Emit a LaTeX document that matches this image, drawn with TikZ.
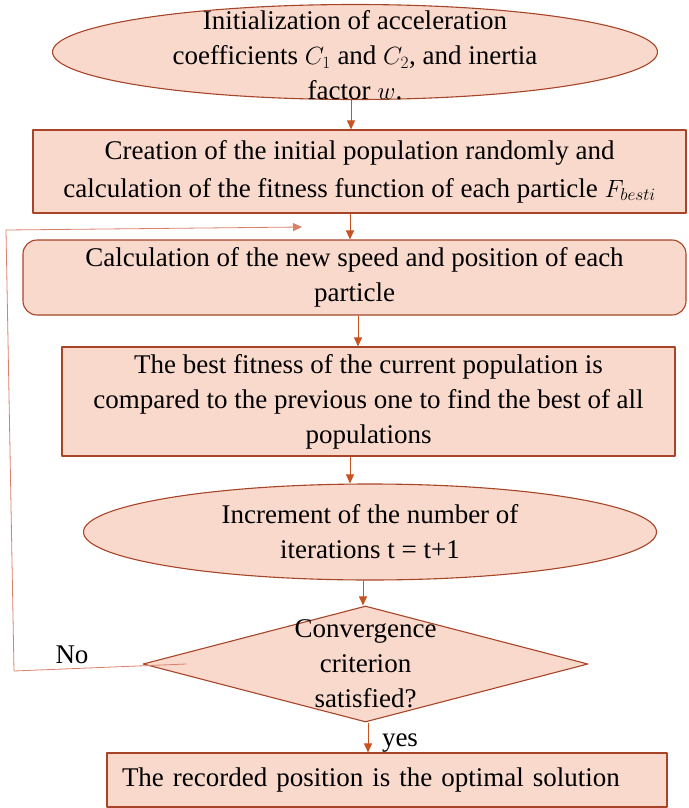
\documentclass[tikz,border=0pt]{standalone}
\usepackage{fontspec}
\setmainfont{Liberation Serif}
\usepackage{tikz}
\usetikzlibrary{arrows.meta,shapes.geometric}

\definecolor{boxfill}{RGB}{248,217,204}
\definecolor{boxline}{RGB}{168,68,40}
\definecolor{arrowline}{RGB}{200,82,32}
\definecolor{backline}{RGB}{218,128,104}

\tikzset{
  procbox/.style={rectangle,draw=boxline,fill=boxfill,line width=1.1pt,align=center,inner sep=0pt},
  startend/.style={ellipse,draw=boxline,fill=boxfill,line width=1.1pt,inner sep=0pt},
  decision/.style={diamond,draw=boxline,fill=boxfill,line width=1.1pt,inner sep=0pt},
  every label/.style={align=center},
  flow/.style={->,draw=arrowline,line width=0.8pt},
  backflow/.style={->,draw=backline,line width=0.8pt}
}

\begin{document}
\begin{tikzpicture}[x=1pt,y=-1pt,>={Triangle[length=9pt,width=8pt]},line join=round,font=\fontsize{27}{35}\selectfont]
  \useasboundingbox (0,0) rectangle (688,808);
  \coordinate (nobend) at (14,671);
  \coordinate (topbend) at (6,230);
  \coordinate (loopend) at (302,227);
  \node[startend,minimum width=605,minimum height=95,label={[yshift=-3pt]center:{Initialization of acceleration\\coefficients $C_1$ and $C_2$, and inertia\\factor $w$.}}] (init) at (355,52) {};
  \node[procbox,minimum width=653,minimum height=83] (create) at (359.5,171.5) {Creation of the initial population randomly and\\[3pt]calculation of the fitness function of each particle $F_{besti}$};
  \node[procbox,rounded corners=14pt,minimum width=663,minimum height=75] (speed) at (354.5,277.5) {Calculation of the new speed and position of each\\particle};
  \node[procbox,minimum width=613,minimum height=109] (compare) at (368.5,401.5) {The best fitness of the current population is\\compared to the previous one to find the best of all\\populations};
  \node[startend,minimum width=573,minimum height=96,label={center:{Increment of the number of\\iterations t = t+1}}] (incr) at (370,532) {};
  \node[decision,minimum width=445,minimum height=116,label={center:{Convergence\\criterion\\satisfied?}}] (conv) at (365.5,664) {};
  \node[procbox,minimum width=560,minimum height=54,text width=530,align=left] (result) at (387,780) {The recorded position is the optimal solution};
  \draw[flow] ([xshift=-4pt]init.south) -- ([xshift=-4pt]init.south |- create.north);
  \draw[flow] ([xshift=-9.5pt]create.south) -- ([xshift=-9.5pt]create.south |- speed.north);
  \draw[flow] ([xshift=3.5pt]speed.south) -- ([xshift=3.5pt]speed.south |- compare.north);
  \draw[flow] ([xshift=-18.5pt]compare.south) -- ([xshift=-18.5pt]compare.south |- incr.north);
  \draw[flow] ([xshift=-7pt]incr.south) -- ([xshift=-7pt]incr.south |- conv.north);
  \draw[flow] ([xshift=2.5pt]conv.south) -- ([xshift=2.5pt]conv.south |- result.north);
  \draw[backflow] ([xshift=44pt]conv.west) -- (nobend) -- (topbend) -- (loopend);
  \node (nolabel) at (72,655) {No};
  \node (yeslabel) at (400,743) {yes};
\end{tikzpicture}
\end{document}
